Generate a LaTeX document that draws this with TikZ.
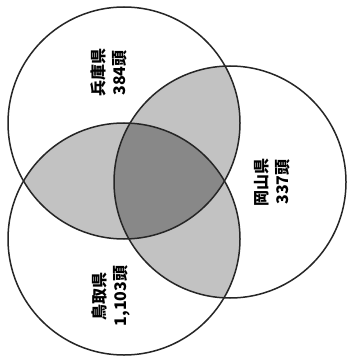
\documentclass[tikz,border=0pt]{standalone}
\usepackage{fontspec}
\newfontfamily\jp{Noto Sans CJK JP}
\definecolor{lightreg}{RGB}{194,194,194}
\definecolor{darkreg}{RGB}{136,136,136}
\begin{document}
\begin{tikzpicture}[x=1pt,y=-1pt,
  ring/.style={draw=black!85, line width=1.5pt},
  lbl/.style={rotate=90, align=center, font=\jp\bfseries\fontsize{16}{21}\selectfont, inner sep=0pt}]
\useasboundingbox (0,0) rectangle (347,358);
\fill[white] (0,0) rectangle (347,358);
\coordinate (H) at (124,123);
\coordinate (T) at (124,239);
\coordinate (O) at (230,182);
\def\rr{116}
\begin{scope}
  \clip (H) circle[radius=\rr];
  \fill[lightreg] (T) circle[radius=\rr];
  \fill[lightreg] (O) circle[radius=\rr];
\end{scope}
\begin{scope}
  \clip (T) circle[radius=\rr];
  \fill[lightreg] (O) circle[radius=\rr];
\end{scope}
\begin{scope}
  \clip (H) circle[radius=\rr];
  \clip (T) circle[radius=\rr];
  \fill[darkreg] (O) circle[radius=\rr];
\end{scope}
\draw[ring] (H) circle[radius=\rr];
\draw[ring] (T) circle[radius=\rr];
\draw[ring] (O) circle[radius=\rr];
\node[lbl] (hyogo) at (109,73) {兵庫県\\384頭};
\node[lbl] (okayama) at (272,182) {岡山県\\337頭};
\node[lbl] (tottori) at (111,296) {鳥取県\\1,103頭};
\end{tikzpicture}
\end{document}
